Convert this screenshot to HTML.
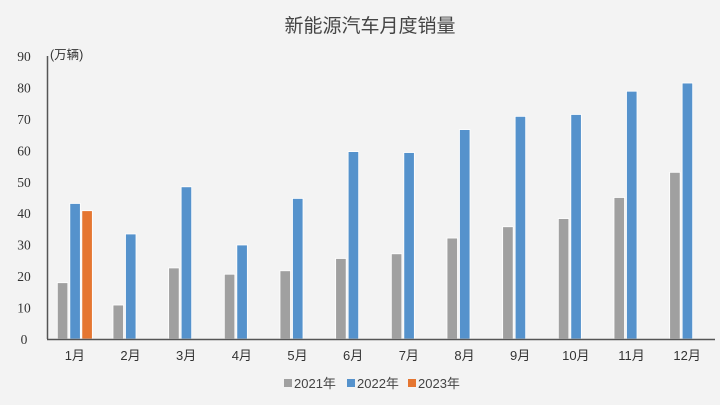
<!DOCTYPE html>
<html><head><meta charset="utf-8"><style>
html,body{margin:0;padding:0;background:#f3f3f3;}
svg{display:block;font-family:"Liberation Sans","Noto Sans CJK SC",sans-serif;}
</style></head><body>
<svg width="720" height="405" viewBox="0 0 720 405" xmlns="http://www.w3.org/2000/svg">
<rect width="720" height="405" fill="#f3f3f3"/>
<text x="370" y="32" text-anchor="middle" font-size="19" fill="#444" font-family="Liberation Sans,Noto Sans CJK SC,sans-serif">新能源汽车月度销量</text>
<text x="50" y="59" font-size="12.5" fill="#333">(万辆)</text>
<g font-size="13.5" fill="#333" text-anchor="middle" font-family="Liberation Serif,serif" id="yt"></g>
<g id="bars" stroke="#ffffff" stroke-width="0.8"></g>
<line x1="47.5" y1="56" x2="47.5" y2="339" stroke="#555" stroke-width="1.5"/>
<line x1="47" y1="339.5" x2="715" y2="339.5" stroke="#555" stroke-width="1.5"/>
<g id="xt" font-size="13" fill="#333" text-anchor="middle"></g>
<g font-size="13" fill="#444">
<rect x="284" y="379" width="8" height="8" fill="#a0a0a0"/><text x="294" y="388">2021年</text>
<rect x="347" y="379" width="8" height="8" fill="#5592cc"/><text x="357" y="388">2022年</text>
<rect x="408" y="379" width="8" height="8" fill="#e57631"/><text x="418" y="388">2023年</text>
</g>
</svg>
<script>
var ns="http://www.w3.org/2000/svg";
function el(p,t,a,txt){var e=document.createElementNS(ns,t);for(var k in a)e.setAttribute(k,a[k]);if(txt)e.textContent=txt;p.appendChild(e);}
var yt=document.getElementById('yt'),bars=document.getElementById('bars'),xt=document.getElementById('xt');
var s=283/90;
for(var v=0;v<=90;v+=10){el(yt,'text',{x:24,y:339-v*s+5},String(v));}
var a=[17.9,10.8,22.6,20.6,21.7,25.6,27.1,32.1,35.7,38.3,45,53];
var b=[43.1,33.4,48.4,29.9,44.7,59.6,59.3,66.6,70.8,71.4,78.8,81.4];
var w=668/12;
for(var i=0;i<12;i++){var c=47+w*(i+0.5);
el(bars,'rect',{x:c-17.5,y:339-a[i]*s,width:10.5,height:a[i]*s,fill:'#a0a0a0'});
el(bars,'rect',{x:c-5,y:339-b[i]*s,width:10.5,height:b[i]*s,fill:'#5592cc'});
el(xt,'text',{x:c,y:360},(i+1)+'月');}
el(bars,'rect',{x:47+w*0.5+7,y:339-40.8*s,width:10.5,height:40.8*s,fill:'#e57631'});
</script>
</body></html>
